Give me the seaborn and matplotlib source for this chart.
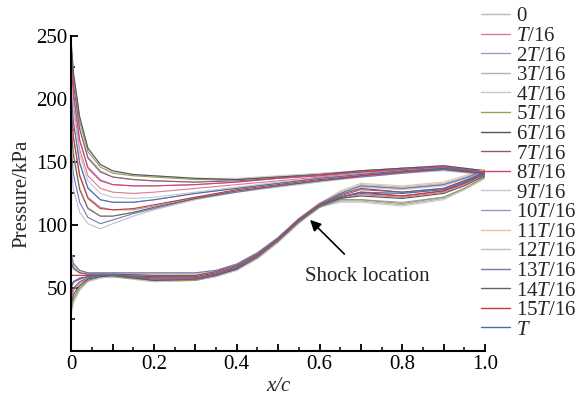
import numpy as np
import pandas as pd
import matplotlib
matplotlib.use("Agg")
import matplotlib.pyplot as plt
import seaborn as sns
from matplotlib.ticker import MultipleLocator, FuncFormatter

# ---------------- data ----------------
labels = ["0", "$T$/16", "2$T$/16", "3$T$/16", "4$T$/16", "5$T$/16", "6$T$/16",
          "7$T$/16", "8$T$/16", "9$T$/16", "10$T$/16", "11$T$/16", "12$T$/16",
          "13$T$/16", "14$T$/16", "15$T$/16", "$T$"]

colors = ["#b4b9c2", "#e0788a", "#9c9ed2", "#aeb2b8", "#c6cacf", "#9aa04c",
          "#4f5860", "#8a5a7a", "#d8406a", "#c4c8cd", "#94a0b8", "#f0c48a",
          "#bcc0c6", "#7676b8", "#5e666e", "#d03434", "#4c6cb0"]

x_upper = [0, 0.005, 0.02, 0.04, 0.07, 0.1, 0.15, 0.2, 0.3, 0.4, 0.5, 0.6, 0.7, 0.8, 0.9, 1.0]

upper_pressure = [
    [205, 182, 150, 130, 120, 118, 118, 120, 125, 129, 133, 137, 140, 143, 145, 142],
    [215, 195, 160, 139, 129, 126, 125, 126, 129, 132, 135, 138, 141, 143, 145, 142],
    [228, 205, 168, 146, 136, 132, 131, 131, 132, 134, 137, 139, 142, 144, 146, 143],
    [236, 213, 177, 154, 143, 138, 136, 135, 134, 136, 138, 140, 142, 145, 147, 143],
    [242, 220, 185, 160, 148, 142, 140, 139, 137, 137, 139, 141, 143, 145, 147, 143],
    [240, 217, 182, 158, 146, 141, 139, 138, 136, 136, 138, 140, 143, 145, 146, 143],
    [243, 221, 186, 161, 148, 143, 140, 139, 137, 136, 138, 140, 143, 145, 147, 143],
    [235, 212, 176, 153, 142, 138, 136, 135, 134, 135, 137, 140, 142, 144, 146, 142],
    [226, 203, 167, 145, 135, 132, 131, 131, 132, 134, 137, 139, 142, 144, 146, 142],
    [212, 190, 156, 135, 125, 122, 121, 122, 126, 130, 134, 137, 140, 143, 145, 141],
    [192, 170, 140, 122, 114, 112, 112, 115, 122, 127, 131, 135, 139, 142, 144, 141],
    [178, 158, 130, 114, 107, 107, 110, 114, 121, 127, 131, 135, 139, 142, 144, 141],
    [145, 128, 110, 101, 97, 101, 107, 112, 120, 126, 130, 134, 138, 141, 143, 140],
    [160, 140, 118, 106, 101, 104, 109, 113, 121, 126, 131, 135, 138, 141, 144, 140],
    [175, 155, 128, 113, 107, 107, 110, 114, 121, 127, 131, 135, 139, 142, 144, 141],
    [190, 169, 139, 121, 113, 112, 113, 116, 122, 128, 132, 136, 139, 142, 145, 141],
    [203, 181, 149, 129, 120, 118, 118, 120, 125, 129, 133, 137, 140, 143, 145, 142],
]

x_lower = [0, 0.005, 0.02, 0.04, 0.07, 0.1, 0.2, 0.3, 0.35, 0.4, 0.45, 0.5, 0.55,
           0.6, 0.65, 0.7, 0.8, 0.9, 0.95, 1.0]

lower_pressure = [
    [50, 54, 57, 59, 60, 60, 58, 58, 61, 66, 75, 88, 103, 115, 122, 126, 125, 128, 134, 141],
    [42, 48, 54, 57, 59, 59, 57, 57, 60, 65, 74, 87, 102, 114, 121, 124, 122, 126, 132, 140],
    [36, 43, 51, 56, 59, 59, 56, 57, 60, 65, 75, 88, 103, 115, 120, 120, 118, 122, 129, 138],
    [32, 40, 49, 55, 58, 59, 55, 56, 59, 64, 74, 87, 102, 114, 119, 119, 116, 121, 128, 137],
    [30, 38, 48, 55, 58, 59, 55, 56, 59, 64, 73, 86, 101, 114, 118, 118, 115, 120, 128, 137],
    [33, 41, 50, 56, 59, 59, 56, 56, 60, 65, 74, 87, 102, 114, 120, 120, 117, 122, 129, 138],
    [38, 45, 52, 57, 59, 60, 56, 57, 60, 65, 75, 88, 103, 115, 121, 123, 121, 125, 131, 139],
    [45, 50, 55, 58, 60, 60, 57, 57, 60, 66, 75, 88, 103, 115, 122, 125, 123, 127, 133, 140],
    [52, 55, 58, 59, 60, 60, 58, 58, 61, 66, 76, 89, 104, 116, 123, 128, 126, 129, 135, 141],
    [60, 60, 60, 60, 61, 61, 59, 59, 62, 67, 76, 89, 104, 116, 124, 130, 128, 131, 136, 142],
    [68, 65, 62, 61, 61, 61, 60, 60, 63, 68, 77, 90, 105, 117, 125, 131, 129, 132, 137, 143],
    [74, 68, 63, 62, 62, 62, 61, 61, 63, 68, 77, 90, 105, 117, 127, 133, 131, 134, 139, 144],
    [78, 70, 64, 62, 62, 62, 62, 62, 64, 69, 78, 90, 105, 117, 126, 132, 130, 133, 138, 143],
    [76, 69, 64, 62, 62, 62, 62, 62, 64, 69, 78, 90, 105, 117, 125, 131, 129, 132, 137, 143],
    [70, 66, 62, 61, 61, 61, 60, 60, 63, 68, 77, 89, 104, 116, 124, 129, 126, 129, 135, 142],
    [60, 60, 60, 60, 60, 60, 59, 59, 62, 67, 76, 89, 104, 116, 122, 126, 123, 127, 133, 141],
    [51, 55, 57, 59, 60, 60, 58, 58, 61, 66, 75, 88, 103, 115, 122, 126, 125, 128, 134, 141],
]

# ---------------- build long table (closed loop: upper TE->LE, lower LE->TE) ----------------
rows = []
for lab, up, lo in zip(labels, upper_pressure, lower_pressure):
    order = 0
    for xv, pv in zip(x_upper[::-1], up[::-1]):
        rows.append((lab, order, xv, pv)); order += 1
    for xv, pv in zip(x_lower, lo):
        rows.append((lab, order, xv, pv)); order += 1
df = pd.DataFrame(rows, columns=["time", "order", "x", "p"])

# ---------------- plot ----------------
sns.set_theme(style="white")
plt.rcParams["font.family"] = ["Liberation Serif", "DejaVu Serif"]
plt.rcParams["mathtext.fontset"] = "custom"
plt.rcParams["mathtext.rm"] = "Liberation Serif"
plt.rcParams["mathtext.it"] = "Liberation Serif:italic"

FS = 15

fig = plt.figure(figsize=(5.85, 4.03), dpi=100)
ax = fig.add_axes([0.122, 0.129, 0.707, 0.782])

sns.lineplot(data=df, x="x", y="p", hue="time", hue_order=labels,
             palette=colors, sort=False, estimator=None, linewidth=0.8,
             ax=ax, legend=True)

ax.set_xlim(0, 1.0)
ax.set_ylim(0, 250)
for s in ["top", "right"]:
    ax.spines[s].set_visible(False)
for s in ["left", "bottom"]:
    ax.spines[s].set_color("black")
    ax.spines[s].set_linewidth(1.5)

ax.xaxis.set_major_locator(MultipleLocator(0.1))
ax.xaxis.set_minor_locator(MultipleLocator(0.05))
ax.xaxis.set_major_formatter(FuncFormatter(
    lambda v, p: ("0" if abs(v) < 1e-9 else f"{v:.1f}") if round(v * 10) % 2 == 0 else ""))
ax.yaxis.set_major_locator(MultipleLocator(50))
ax.yaxis.set_minor_locator(MultipleLocator(25))
ax.yaxis.set_major_formatter(FuncFormatter(lambda v, p: "" if v == 0 else f"{int(v)}"))

ax.tick_params(which="major", direction="in", length=5, width=1.3, colors="black",
               labelsize=FS, pad=3)
ax.tick_params(which="minor", direction="in", length=3, width=1.1, colors="black")
ax.tick_params(axis="x", which="both", bottom=True)
ax.tick_params(axis="y", which="both", left=True)

ax.set_xlabel("x/c", fontsize=FS, fontstyle="italic", labelpad=2)
ax.set_ylabel("Pressure/kPa", fontsize=FS, labelpad=3)

ax.annotate("Shock location", xy=(0.577, 104), xytext=(0.715, 59),
            fontsize=FS, ha="center", va="center",
            arrowprops=dict(arrowstyle="-|>", color="black", lw=1.2,
                            mutation_scale=16, shrinkA=10, shrinkB=0))

handles, labs = ax.get_legend_handles_labels()
for h in handles:
    h.set_linewidth(1.0)
ax.legend(handles, labs, loc="upper left", bbox_to_anchor=(0.823, 0.983),
          bbox_transform=fig.transFigure, frameon=False, fontsize=FS,
          handlelength=1.35, handletextpad=0.3, labelspacing=0.0,
          borderpad=0.0, borderaxespad=0.0)

fig.savefig("out.png", dpi=100)
